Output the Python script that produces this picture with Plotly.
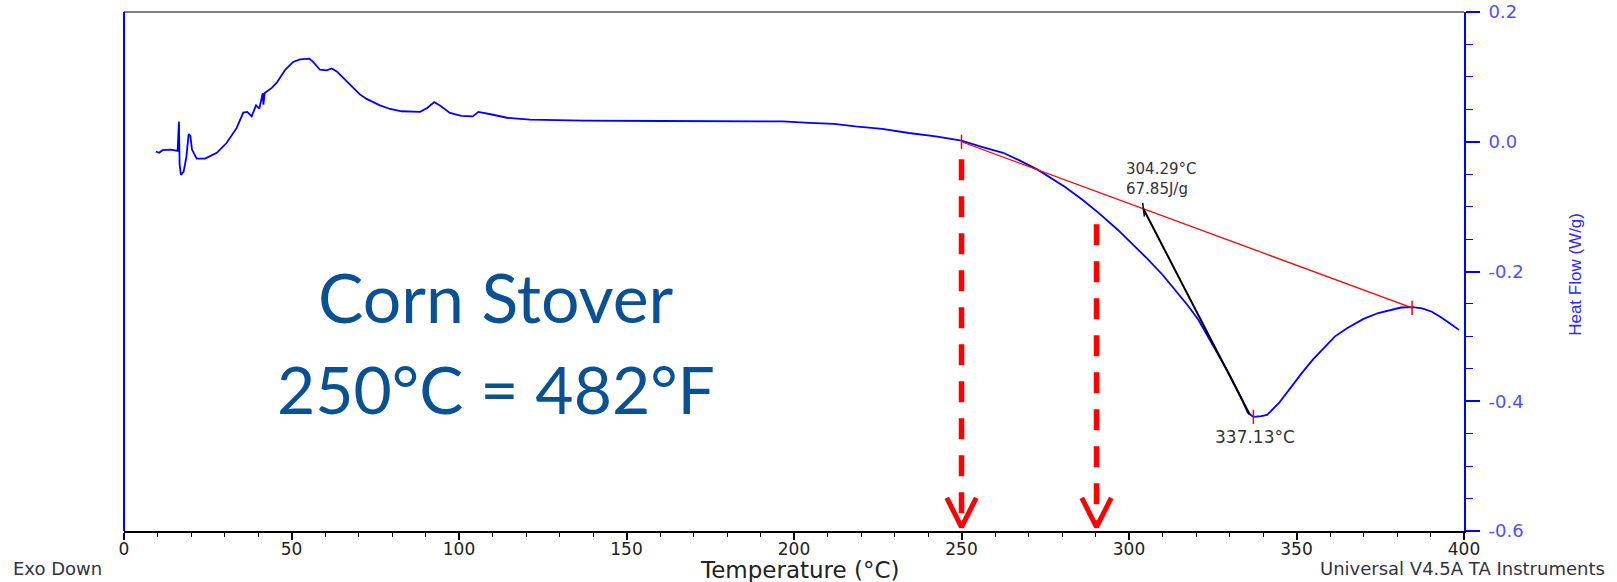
import plotly.graph_objects as go

# ---- data ----
temperature = [9.5, 10.5, 11.5, 14, 16, 16.4, 16.6, 17, 17.8, 18.6, 19.3, 19.8, 20.3, 21.7, 24.2,
               27.7, 30.6, 33.6, 35.6, 36.8, 38.1, 39.4, 40.4, 41.4, 41.6, 42.0, 44.1, 45.6, 48.1,
               50.5, 52.5, 55.3, 56.3, 58.5, 60.5, 62, 63.5, 66.5, 70.4, 72.4, 76.4, 79.4, 82.9,
               88.4, 90.5, 92.6, 94.3, 97.3, 100.7, 104.1, 105.8, 109.8, 114.3, 121.2, 137.2, 160,
               196.6, 204.6, 212, 218.3, 226.3, 234.3, 242.3, 250, 256, 262.4, 267, 272.7, 276.5,
               280.7, 286, 291, 296.7, 301, 305.8, 310, 313.8, 317.5, 320.7, 325.3, 329.8, 333.3,
               335.5, 337.1, 339.5, 341.2, 344.7, 348, 351.5, 355, 358.4, 361.5, 365.2, 370, 374.4,
               378, 381.2, 384.7, 387.5, 390.4, 393, 395.8, 398.5]
heat_flow = [-0.015, -0.017, -0.013, -0.012, -0.014, 0.031, -0.035, -0.051, -0.046, -0.024, 0.012,
             0.009, -0.012, -0.026, -0.026, -0.017, -0.002, 0.021, 0.045, 0.046, 0.039, 0.056, 0.051,
             0.075, 0.057, 0.075, 0.083, 0.091, 0.111, 0.123, 0.127, 0.128, 0.124, 0.111, 0.110,
             0.113, 0.1085, 0.093, 0.073, 0.066, 0.056, 0.0505, 0.047, 0.046, 0.052, 0.061, 0.056,
             0.0444, 0.040, 0.039, 0.046, 0.042, 0.037, 0.034, 0.0325, 0.032, 0.0314, 0.029, 0.0274,
             0.0237, 0.020, 0.0135, 0.0083, 0.0016, -0.008, -0.017, -0.028, -0.043, -0.055, -0.069,
             -0.089, -0.110, -0.136, -0.157, -0.182, -0.205, -0.228, -0.252, -0.2745, -0.316, -0.357,
             -0.393, -0.418, -0.424, -0.423, -0.421, -0.403, -0.381, -0.357, -0.335, -0.316, -0.300,
             -0.287, -0.273, -0.264, -0.259, -0.2555, -0.255, -0.257, -0.262, -0.270, -0.28, -0.29]

baseline_temp = [250.0, 384.5]
baseline_flow = [0.0, -0.256]
peak_temp = 337.13
peak_flow = -0.424
onset_temp = 304.29
onset_flow = -0.1033
drag_end = [336.0, -0.42]
enthalpy_text = "67.85J/g"

arrow_temps = [250.0, 290.3]
arrow_start_flow = [-0.027, -0.127]
arrow_tip_flow = -0.594

x_ticks = [0, 50, 100, 150, 200, 250, 300, 350, 400]
y_ticks = [0.2, 0.0, -0.2, -0.4, -0.6]
y_ticktext = ["0.2", "0.0", "-0.2", "-0.4", "-0.6"]

fig = go.Figure()

# main DSC curve
fig.add_trace(go.Scatter(x=temperature, y=heat_flow, mode="lines",
                         line=dict(color="#0000ff", width=1.8), showlegend=False, hoverinfo="skip"))
# baseline
fig.add_trace(go.Scatter(x=baseline_temp, y=baseline_flow, mode="lines",
                         line=dict(color="#ff0000", width=1.3), showlegend=False, hoverinfo="skip"))
# drag line from onset to peak
fig.add_trace(go.Scatter(x=[onset_temp, drag_end[0]], y=[onset_flow, drag_end[1]], mode="lines",
                         line=dict(color="#000000", width=2), showlegend=False, hoverinfo="skip"))

shapes = []
# red tick marks at baseline ends and peak
for tx, ty in [(baseline_temp[0], baseline_flow[0]), (baseline_temp[1], baseline_flow[1]), (peak_temp, peak_flow)]:
    shapes.append(dict(type="line", xref="x", yref="y", x0=tx, x1=tx, y0=ty - 0.011, y1=ty + 0.011,
                       line=dict(color="#ff0000", width=1.5)))
# black tick at onset
shapes.append(dict(type="line", xref="x", yref="y", x0=onset_temp - 0.2, x1=onset_temp + 0.3,
                   y0=onset_flow + 0.009, y1=onset_flow - 0.012, line=dict(color="#000000", width=1.5)))

# red dashed arrows
for ax, ay in zip(arrow_temps, arrow_start_flow):
    shapes.append(dict(type="line", xref="x", yref="y", x0=ax, x1=ax, y0=ay, y1=arrow_tip_flow + 0.004,
                       line=dict(color="#ff0000", width=5.5, dash="21px,16px")))
    fig.add_trace(go.Scatter(x=[ax - 4.4, ax, ax + 4.4], y=[-0.549, arrow_tip_flow, -0.549],
                             mode="lines", line=dict(color="#ff0000", width=5),
                             showlegend=False, hoverinfo="skip"))

# frame: top grey line, left blue line
shapes.append(dict(type="line", xref="paper", yref="paper", x0=0, x1=1, y0=1, y1=1,
                   line=dict(color="#555555", width=1.5)))
shapes.append(dict(type="line", xref="paper", yref="paper", x0=0, x1=0, y0=0, y1=1,
                   line=dict(color="#0000ff", width=2)))

annotations = [
    dict(text=f"{onset_temp:.2f}°C<br>{enthalpy_text}", x=onset_temp, y=onset_flow, xref="x", yref="y",
         xanchor="left", yanchor="middle", align="left", xshift=-19, yshift=30, showarrow=False,
         font=dict(family="DejaVu Sans", size=15, color="#333333")),
    dict(text=f"{peak_temp:.2f}°C", x=peak_temp, y=peak_flow, xref="x", yref="y",
         xanchor="center", yanchor="middle", xshift=2, yshift=-20, showarrow=False,
         font=dict(family="DejaVu Sans", size=17, color="#333333")),
    dict(text="Corn Stover", x=111, y=-0.239, xref="x", yref="y", xanchor="center", yanchor="middle",
         showarrow=False, font=dict(family="Lato", size=68, color="#0a5095")),
    dict(text="250°C = 482°F", x=111, y=-0.381, xref="x", yref="y", xanchor="center", yanchor="middle",
         showarrow=False, font=dict(family="Lato", size=66, color="#0a5095")),
    dict(text="Temperature (°C)", x=0.5, y=0, xref="paper", yref="paper", xanchor="center",
         yanchor="middle", xshift=6, yshift=-39, showarrow=False,
         font=dict(family="DejaVu Sans", size=23, color="#222222")),
    dict(text="Exo Down", x=0, y=0, xref="paper", yref="paper", xanchor="left", yanchor="middle",
         xshift=-113, yshift=-37, showarrow=False,
         font=dict(family="DejaVu Sans", size=18, color="#333340")),
    dict(text="Universal V4.5A TA Instruments", x=1, y=0, xref="paper", yref="paper", xanchor="right",
         yanchor="middle", xshift=143, yshift=-37, showarrow=False,
         font=dict(family="DejaVu Sans", size=18, color="#333340")),
    dict(text="Heat Flow (W/g)", x=1, y=0.4936, xref="paper", yref="paper", xanchor="center",
         yanchor="middle", xshift=112, textangle=-90, showarrow=False,
         font=dict(family="Liberation Sans", size=17, color="#2a2af0")),
]

fig.update_layout(
    width=1617, height=582,
    margin=dict(l=124, r=153, t=12, b=51, autoexpand=False),
    paper_bgcolor="white", plot_bgcolor="white",
    shapes=shapes, annotations=annotations,
    showlegend=False,
    xaxis=dict(range=[0, 400], tickmode="array", tickvals=x_ticks, automargin=False,
               showline=True, linecolor="#000000", linewidth=1.5,
               ticks="outside", ticklen=7, tickwidth=1.5, tickcolor="#000000",
               minor=dict(tickmode="linear", tick0=0, dtick=10, ticks="outside", ticklen=4,
                          tickwidth=1.3, tickcolor="#000000"),
               ticklabelstandoff=-5,
               showgrid=False, zeroline=False,
               tickfont=dict(family="DejaVu Sans", size=17, color="#222222")),
    yaxis=dict(range=[-0.6, 0.2], side="right", tickmode="array", tickvals=y_ticks, ticktext=y_ticktext,
               automargin=False,
               showline=True, linecolor="#0000ff", linewidth=2,
               ticks="outside", ticklen=14, tickwidth=1.5, tickcolor="#0000ff",
               minor=dict(tickmode="linear", tick0=0, dtick=0.05, ticks="outside", ticklen=7,
                          tickwidth=1.3, tickcolor="#0000ff"),
               ticklabelstandoff=5,
               showgrid=False, zeroline=False,
               tickfont=dict(family="DejaVu Sans", size=18, color="#5050ff")),
)

fig.write_html("out.html", config={"displayModeBar": False},
               post_script="document.body.style.margin='0';document.body.style.overflow='hidden';")
